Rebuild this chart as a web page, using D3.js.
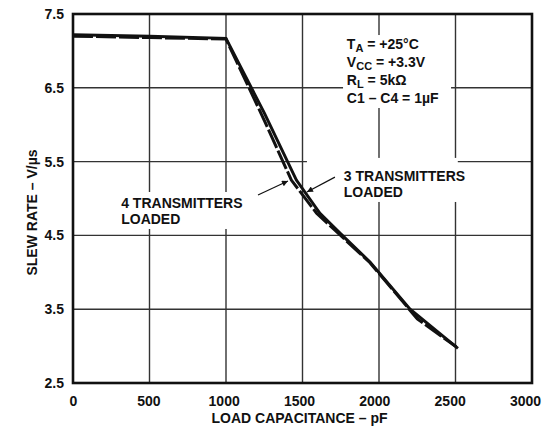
<!DOCTYPE html>
<html>
<head>
<meta charset="utf-8">
<script src="https://cdn.jsdelivr.net/npm/d3@7"></script>
<style>
  body { margin: 0; background: #fff; }
  text { font-family: "Liberation Sans", Arial, sans-serif; font-weight: bold; fill: #111; }
</style>
</head>
<body>
<div id="container"></div>
<script>
// load capacitance (pF) vs slew rate (V/us)
const capThree = [0, 500, 1000, 1250, 1460, 1614, 1750, 1941, 2203, 2516];
const rateThree = [7.22, 7.2, 7.17, 6.16, 5.25, 4.8, 4.52, 4.14, 3.5, 2.97];
const capFour = [0, 500, 1000, 1250, 1427, 1592, 1712, 1941, 2250, 2505];
const rateFour = [7.2, 7.18, 7.16, 6.06, 5.25, 4.8, 4.57, 4.13, 3.37, 2.99];

const xTicks = [0, 500, 1000, 1500, 2000, 2500, 3000];
const yTicks = [2.5, 3.5, 4.5, 5.5, 6.5, 7.5];

const margin = { top: 14, right: 17, bottom: 55, left: 73 };
const W = 549, H = 438;
const width = W - margin.left - margin.right;
const height = H - margin.top - margin.bottom;

const svg = d3.select('#container')
    .append('svg')
    .attr('width', W)
    .attr('height', H);

const g = svg.append('g')
    .attr('transform', `translate(${margin.left}, ${margin.top})`);

const x = d3.scaleLinear().domain([0, 3000]).range([0, width]);
const y = d3.scaleLinear().domain([2.5, 7.5]).range([height, 0]);
// tick labels sit a little tighter than the grid in the original
const xLab = d3.scaleLinear().domain([0, 3000]).range([0, width - 7]);

// grid
g.append('g')
    .selectAll('line')
    .data(xTicks.slice(1, -1)).enter()
    .append('line')
    .attr('x1', d => x(d)).attr('x2', d => x(d))
    .attr('y1', 0).attr('y2', height)
    .attr('stroke', '#333').attr('stroke-width', 1.4);

g.append('g')
    .selectAll('line')
    .data(yTicks.slice(1, -1)).enter()
    .append('line')
    .attr('x1', 0).attr('x2', width)
    .attr('y1', d => y(d)).attr('y2', d => y(d))
    .attr('stroke', '#333').attr('stroke-width', 1.4);

// white boxes behind the labels
const boxes = [
    { x0: 1765, x1: 2471, y0: 7.215, y1: 6.226 },
    { x0: 294, x1: 1196, y0: 5.088, y1: 4.587 },
    { x0: 1529, x1: 2515, y0: 5.55, y1: 4.953 }
];
g.append('g')
    .selectAll('rect')
    .data(boxes).enter()
    .append('rect')
    .attr('x', d => x(d.x0))
    .attr('y', d => y(d.y0))
    .attr('width', d => x(d.x1) - x(d.x0))
    .attr('height', d => y(d.y1) - y(d.y0))
    .attr('fill', '#fff');

// frame
g.append('rect')
    .attr('width', width).attr('height', height)
    .attr('fill', 'none').attr('stroke', '#111').attr('stroke-width', 2.6);

// axes labels
g.append('g')
    .attr('transform', `translate(0, ${height})`)
    .call(d3.axisBottom(xLab).tickValues(xTicks).tickFormat(d3.format('d')).tickSize(0).tickPadding(13))
    .call(a => a.select('.domain').remove())
    .selectAll('text')
    .attr('font-size', 14);

g.append('g')
    .call(d3.axisLeft(y).tickValues(yTicks).tickFormat(d3.format('.1f')).tickSize(0).tickPadding(9))
    .call(a => a.select('.domain').remove())
    .selectAll('text')
    .attr('font-size', 14);

g.append('text')
    .attr('x', width / 2 - 3)
    .attr('y', height + 40)
    .attr('text-anchor', 'middle')
    .attr('font-size', 14)
    .text('LOAD CAPACITANCE – pF');

g.append('text')
    .attr('transform', `translate(${-36}, ${height / 2 + 14}) rotate(-90)`)
    .attr('text-anchor', 'middle')
    .attr('font-size', 14)
    .text('SLEW RATE – V/µs');

// curves
const line = d3.line().x(d => x(d[0])).y(d => y(d[1]));

g.append('path')
    .datum(d3.zip(capThree, rateThree))
    .attr('d', line)
    .attr('fill', 'none')
    .attr('stroke', '#111')
    .attr('stroke-width', 3);

g.append('path')
    .datum(d3.zip(capFour, rateFour))
    .attr('d', line)
    .attr('fill', 'none')
    .attr('stroke', '#111')
    .attr('stroke-width', 3)
    .attr('stroke-dasharray', '20 3');

// conditions
const cond = g.append('text')
    .attr('x', x(1790))
    .attr('y', 0)
    .attr('font-size', 14);

const addRow = (dy, main, sub, rest) => {
    cond.append('tspan').attr('x', x(1790)).attr('dy', dy).text(main);
    if (sub) {
        cond.append('tspan').attr('font-size', 11).attr('dy', 3).text(sub);
        cond.append('tspan').attr('dy', -3).text(rest);
    }
};
addRow(35, 'T', 'A', ' = +25°C');
addRow(18, 'V', 'CC', ' = +3.3V');
addRow(18, 'R', 'L', ' = 5kΩ');
addRow(18, 'C1 – C4 = 1µF');

// curve labels
const labels = [
    { cx: 315, cy: 4.87, lines: ['4 TRANSMITTERS', 'LOADED'] },
    { cx: 1770, cy: 5.237, lines: ['3 TRANSMITTERS', 'LOADED'] }
];
labels.forEach(l => {
    const t = g.append('text').attr('font-size', 14);
    l.lines.forEach((s, i) => {
        t.append('tspan')
            .attr('x', x(l.cx))
            .attr('y', y(l.cy) + i * 15.5)
            .text(s);
    });
});

// arrows
svg.append('defs').append('marker')
    .attr('id', 'head')
    .attr('viewBox', '0 0 10 10')
    .attr('refX', 10).attr('refY', 5)
    .attr('markerWidth', 9).attr('markerHeight', 6)
    .attr('markerUnits', 'userSpaceOnUse')
    .attr('orient', 'auto')
    .append('path')
    .attr('d', 'M0,0 L10,5 L0,10 Z')
    .attr('fill', '#111');

const arrows = [
    { x0: 1209, y0: 5.047, x1: 1405, y1: 5.237 },
    { x0: 1712, y0: 5.29, x1: 1529, y1: 5.088 }
];
g.append('g')
    .selectAll('line')
    .data(arrows).enter()
    .append('line')
    .attr('x1', d => x(d.x0)).attr('y1', d => y(d.y0))
    .attr('x2', d => x(d.x1)).attr('y2', d => y(d.y1))
    .attr('stroke', '#111').attr('stroke-width', 1.2)
    .attr('marker-end', 'url(#head)');
</script>
</body>
</html>
